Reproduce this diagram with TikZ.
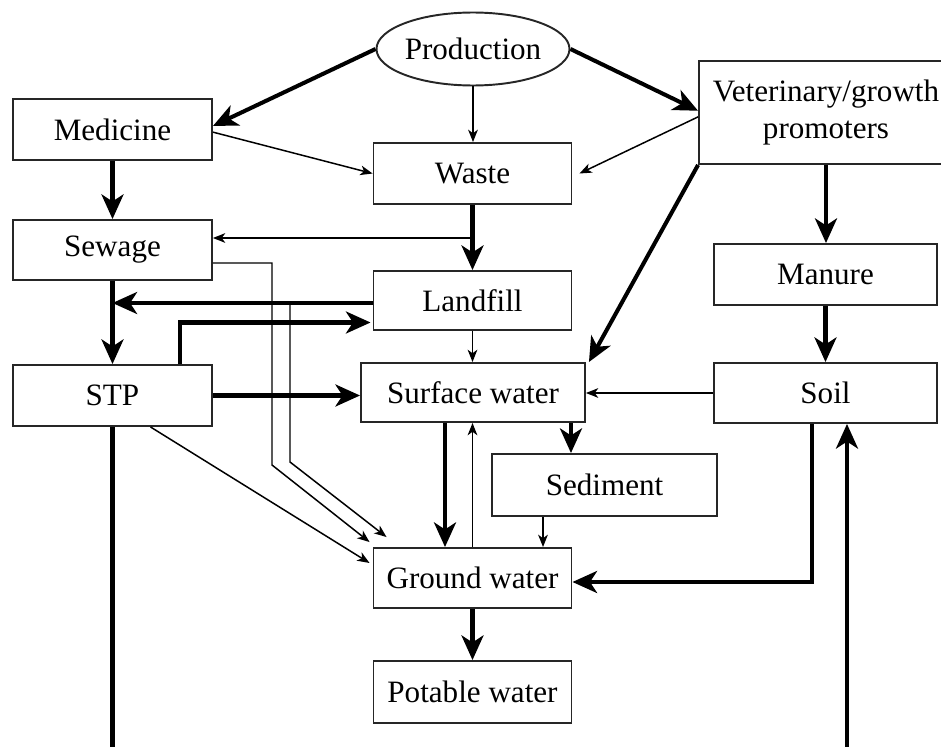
\documentclass[tikz,border=0pt]{standalone}
\usepackage{fontspec}
\setmainfont{Liberation Serif}
\usetikzlibrary{arrows.meta,shapes.geometric,calc}

\tikzset{
  box/.style={draw=black!85, line width=1.1pt, rectangle, inner sep=0pt,
    font=\fontsize{17.7}{21}\selectfont, align=center},
  bigarr/.style={line width=2.3pt, -{Stealth[length=14pt, width=12.5pt, inset=4pt]}},
  smallarr/.style={line width=0.85pt, -{Stealth[length=7pt, width=5.5pt, inset=2pt]}},
  bigline/.style={line width=2.3pt},
}

\begin{document}
\begin{tikzpicture}[x=0.02cm, y=-0.02cm]
\useasboundingbox (0,0) rectangle (941,747);
\clip (0,0) rectangle (941,747);

  % sources
  \node [box, ellipse, minimum width=3.72cm, minimum height=1.46cm] (prod) at (473,49) {Production};
  \node [box, minimum width=3.98cm, minimum height=1.22cm] (med) at (112.5,129.5) {Medicine};
  \node [box, minimum width=5.08cm, minimum height=2.06cm] (vet) at (826,112.5) {Veterinary/growth\\promoters};

  % left column
  \node [box, minimum width=3.98cm, minimum height=1.2cm] (sew) at (112.5,250) {Sewage};
  \node [box, minimum width=3.98cm, minimum height=1.22cm] (stp) at (112.5,395.5) {STP};

  % middle column
  \node [box, minimum width=3.96cm, minimum height=1.22cm] (waste) at (472.5,173.5) {Waste};
  \node [box, minimum width=3.96cm, minimum height=1.18cm] (land) at (472.5,300.5) {Landfill};
  \node [box, minimum width=4.48cm, minimum height=1.18cm] (surf) at (473,392.5) {Surface water};
  \node [box, minimum width=4.5cm, minimum height=1.24cm] (sed) at (604.5,485) {Sediment};
  \node [box, minimum width=3.96cm, minimum height=1.2cm] (ground) at (472.5,578) {Ground water};
  \node [box, minimum width=3.96cm, minimum height=1.24cm] (pot) at (472.5,692) {Potable water};

  % right column
  \node [box, minimum width=4.46cm, minimum height=1.22cm] (man) at (825.5,274.5) {Manure};
  \node [box, minimum width=4.46cm, minimum height=1.2cm] (soil) at (825.5,393) {Soil};

  % bend points
  \coordinate (br) at (472.5,238);
  \coordinate (s1) at (272,263);
  \coordinate (s2) at (272,465);
  \coordinate (l1) at (290,303);
  \coordinate (l2) at (290,462);
  \coordinate (bot) at (480,790);

  % from production
  \draw [bigarr] (prod.west) -- ([yshift=2pt]med.east);
  \draw [bigarr] (prod.east) -- ([yshift=1pt]vet.west);
  \draw [smallarr] (prod.south) -- (prod.south |- waste.north);
  \draw [smallarr] ([yshift=-1.5pt]med.east) -- (waste.west);
  \draw [smallarr] ([yshift=-2.5pt]vet.west) -- ([xshift=4pt]waste.east);

  % waste, sewage, landfill
  \draw [bigarr] (waste.south) -- (land.north);
  \draw [smallarr] (br) -- (br -| sew.east);
  \draw [bigarr] (med.south) -- (sew.north);
  \draw [bigarr] (sew.south) -- (stp.north);
  \draw [bigarr] ([yshift=-0.05cm]land.west) -- ([yshift=-0.05cm]land.west -| stp.north);
  \draw [bigarr] ($(stp.north)+(67.5,0)$) |- ($(land.west)+(-2,22)$);
  \draw [bigarr] (stp.east) -- (stp.east -| surf.west);

  % to ground water
  \draw [smallarr] (sew.east |- s1) -- (s1) -- (s2) -- ($(ground.north west)+(-3,-5)$);
  \draw [smallarr] (l1) -- (l2) -- ($(ground.north west)+(14,-10)$);
  \draw [smallarr] ($(stp.south)+(38,0)$) -- ($(ground.west)+(-3,-15)$);

  % surface water
  \draw [smallarr] (land.south) -- (land.south |- surf.north);
  \draw [bigarr] (vet.south west) -- ($(surf.north east)+(3,0)$);
  \draw [smallarr] (soil.west) -- (soil.west -| surf.east);
  \draw [bigarr] ([xshift=-0.56cm]surf.south) -- ([xshift=-0.56cm]surf.south |- ground.north);
  \draw [smallarr] (ground.north) -- (ground.north |- surf.south);
  \draw [bigarr] ([xshift=1.96cm]surf.south) -- ([xshift=1.96cm]surf.south |- sed.north);
  \draw [smallarr] ([xshift=-1.23cm]sed.south) -- ([xshift=-1.23cm]sed.south |- ground.north);
  \draw [bigarr] (ground.south) -- (pot.north);

  % right side
  \draw [bigarr] (vet.south) -- (vet.south |- man.north);
  \draw [bigarr] (man.south) -- (soil.north);
  \draw [bigarr] ([xshift=-0.27cm]soil.south) |- ([yshift=-0.08cm]ground.east);
  \draw [bigarr] (stp.south) |- (bot) -| ([xshift=0.43cm]soil.south);
\end{tikzpicture}
\end{document}
